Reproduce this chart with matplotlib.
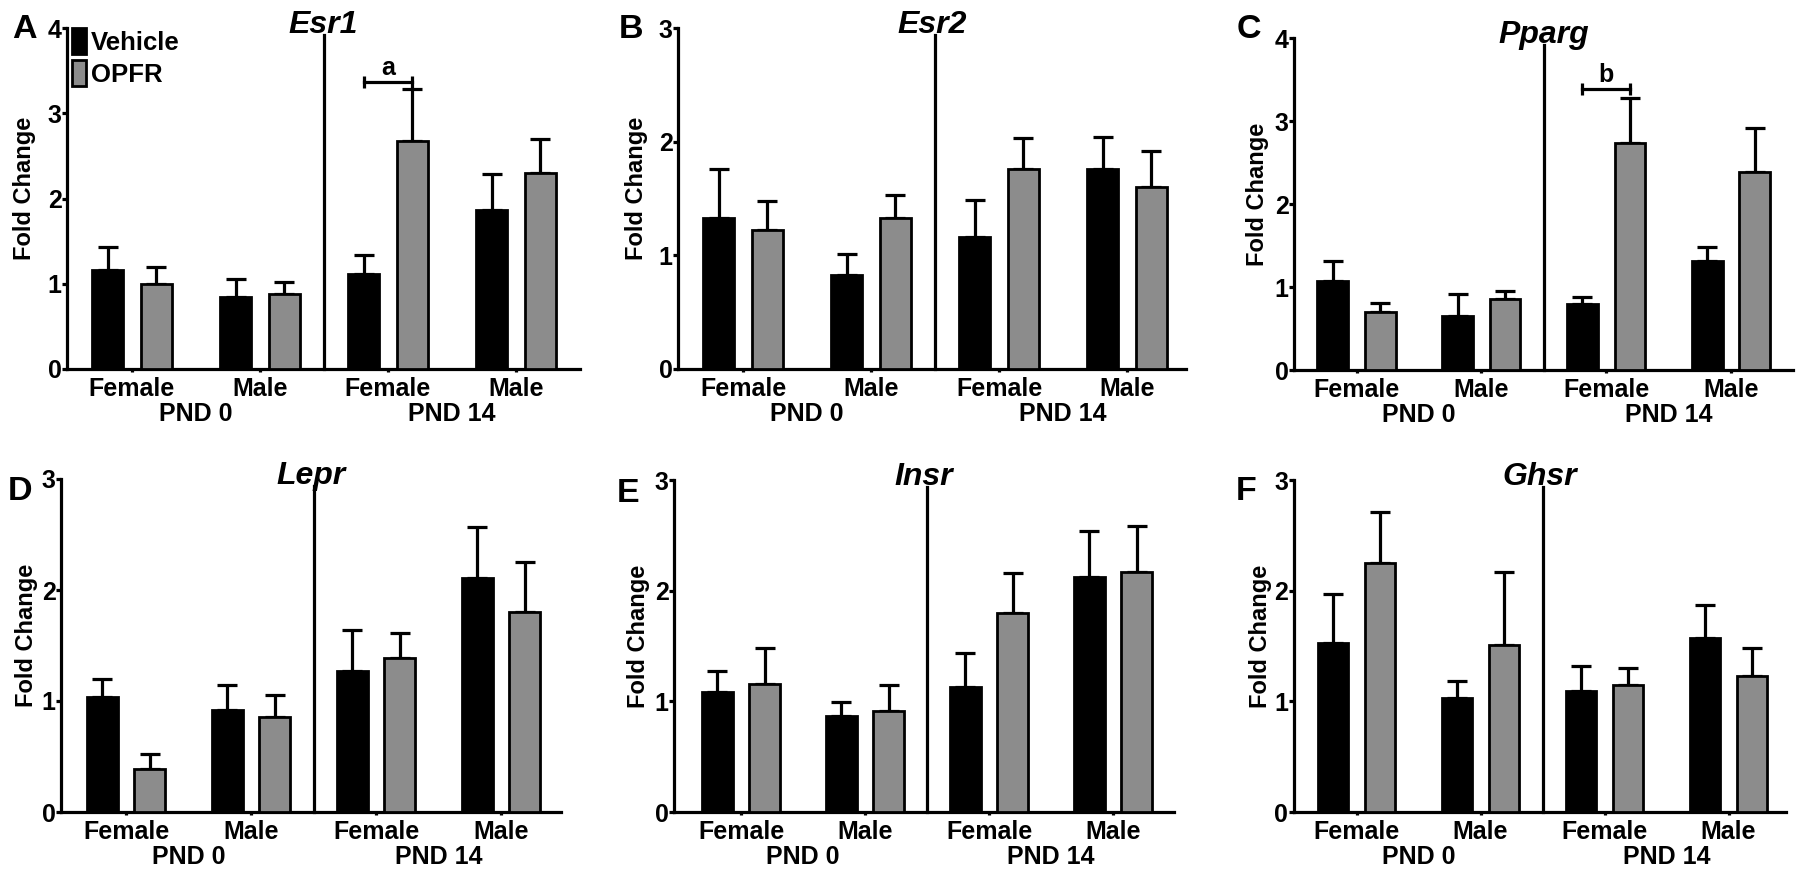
import matplotlib
matplotlib.use('Agg')
import matplotlib.pyplot as plt
import numpy as np

plt.rcParams['font.family'] = ['Liberation Sans', 'DejaVu Sans']
plt.rcParams['font.weight'] = 'bold'

# ---------------- data ----------------
sex_labels = ['Female', 'Male', 'Female', 'Male']
age_labels = ['PND 0', 'PND 14']
treatments = ['Vehicle', 'OPFR']
panel_letters = ['A', 'B', 'C', 'D', 'E', 'F']
genes = ['Esr1', 'Esr2', 'Pparg', 'Lepr', 'Insr', 'Ghsr']
y_max = [4, 3, 4, 3, 3, 3]

esr1_vehicle = [1.16, 0.84, 1.12, 1.87]
esr1_vehicle_sem = [0.27, 0.21, 0.22, 0.42]
esr1_opfr = [1.00, 0.88, 2.68, 2.30]
esr1_opfr_sem = [0.195, 0.14, 0.60, 0.40]

esr2_vehicle = [1.33, 0.83, 1.16, 1.76]
esr2_vehicle_sem = [0.43, 0.18, 0.33, 0.28]
esr2_opfr = [1.22, 1.33, 1.76, 1.60]
esr2_opfr_sem = [0.26, 0.20, 0.27, 0.32]

pparg_vehicle = [1.07, 0.65, 0.80, 1.31]
pparg_vehicle_sem = [0.24, 0.26, 0.08, 0.17]
pparg_opfr = [0.70, 0.85, 2.73, 2.39]
pparg_opfr_sem = [0.11, 0.10, 0.55, 0.53]

lepr_vehicle = [1.04, 0.92, 1.27, 2.11]
lepr_vehicle_sem = [0.16, 0.22, 0.37, 0.46]
lepr_opfr = [0.39, 0.86, 1.39, 1.80]
lepr_opfr_sem = [0.13, 0.19, 0.22, 0.45]

insr_vehicle = [1.08, 0.87, 1.13, 2.12]
insr_vehicle_sem = [0.19, 0.12, 0.31, 0.42]
insr_opfr = [1.16, 0.91, 1.80, 2.17]
insr_opfr_sem = [0.32, 0.24, 0.36, 0.41]

ghsr_vehicle = [1.53, 1.03, 1.09, 1.57]
ghsr_vehicle_sem = [0.44, 0.15, 0.23, 0.30]
ghsr_opfr = [2.25, 1.51, 1.15, 1.23]
ghsr_opfr_sem = [0.46, 0.66, 0.15, 0.25]

# significance brackets
sig_panels = ['A', 'C']
sig_groups = [2, 2]
sig_heights = [3.37, 3.38]
sig_letters = ['a', 'b']

vehicle_means = [esr1_vehicle, esr2_vehicle, pparg_vehicle, lepr_vehicle, insr_vehicle, ghsr_vehicle]
vehicle_sems = [esr1_vehicle_sem, esr2_vehicle_sem, pparg_vehicle_sem, lepr_vehicle_sem, insr_vehicle_sem, ghsr_vehicle_sem]
opfr_means = [esr1_opfr, esr2_opfr, pparg_opfr, lepr_opfr, insr_opfr, ghsr_opfr]
opfr_sems = [esr1_opfr_sem, esr2_opfr_sem, pparg_opfr_sem, lepr_opfr_sem, insr_opfr_sem, ghsr_opfr_sem]

# ---------------- layout (pixels) ----------------
W, H = 1800, 874
DPI = 100
# axis-left, axis-right, first tick, last tick, top (y max), bottom (y=0)
boxes = [(67, 580, 132, 516, 28, 369),
         (678, 1186, 743, 1127, 28, 369),
         (1294, 1793, 1356.5, 1731, 38, 370),
         (61, 561, 126, 501, 479, 812),
         (674, 1174, 741, 1113, 480, 812),
         (1293.5, 1786, 1356.5, 1728.6, 480, 812)]
ylabel_off = [-31, -30, -25, -23, -24, -21]
letter_pos = [(12, 38), (619, 38), (1237, 38), (8, 500), (617, 502), (1236, 500)]

BLACK = '#000000'
GREY = '#8c8c8c'
LW = 2.3
FS = 18
px2pt = 72.0 / DPI

fig = plt.figure(figsize=(W / DPI, H / DPI), dpi=DPI)

x = np.arange(len(sex_labels))
off = 0.19
bw = 0.245

for i in range(6):
    l, r, t0, t3, t, b = boxes[i]
    sp = (t3 - t0) / 3.0
    ax = fig.add_axes([l / W, 1 - b / H, (r - l) / W, (b - t) / H])
    ymax = y_max[i]
    vm, vs = np.array(vehicle_means[i]), np.array(vehicle_sems[i])
    om, os_ = np.array(opfr_means[i]), np.array(opfr_sems[i])

    bv = ax.bar(x - off, vm, width=bw, color=BLACK, edgecolor=BLACK, linewidth=2.0,
                label=treatments[0], zorder=3)
    bo = ax.bar(x + off, om, width=bw, color=GREY, edgecolor=BLACK, linewidth=2.0,
                label=treatments[1], zorder=3)
    ax.errorbar(x - off, vm, yerr=[np.zeros_like(vs), vs], fmt='none', ecolor=BLACK,
                elinewidth=LW, capsize=7, capthick=LW, zorder=2)
    ax.errorbar(x + off, om, yerr=[np.zeros_like(os_), os_], fmt='none', ecolor=BLACK,
                elinewidth=LW, capsize=7, capthick=LW, zorder=2)

    ax.set_xlim((l - t0) / sp, 3 + (r - t3) / sp)
    ax.set_ylim(0, ymax)
    ax.set_yticks(range(ymax + 1))
    ax.set_xticks(x)
    ax.set_xticklabels(sex_labels)
    for s in ['top', 'right']:
        ax.spines[s].set_visible(False)
    for s in ['left', 'bottom']:
        ax.spines[s].set_linewidth(LW)
    ax.tick_params(axis='y', length=3.5, width=LW, pad=0.3, labelsize=FS)
    ax.tick_params(axis='x', length=2.5, width=LW, pad=3, labelsize=FS)
    for lab in ax.get_xticklabels() + ax.get_yticklabels():
        lab.set_fontweight('bold')

    # divider between PND 0 and PND 14
    ax.plot([1.5, 1.5], [0, 0.98 * ymax], color=BLACK, lw=LW, clip_on=False, zorder=4)

    # age group labels
    for k, age in enumerate(age_labels):
        ax.annotate(age, xy=(2 * k + 0.5, 0), xycoords=ax.get_xaxis_transform(),
                    xytext=(0, -52 * px2pt), textcoords='offset points',
                    ha='center', va='baseline', fontsize=FS, fontweight='bold')

    # title
    ax.text(0.5, 0.985, genes[i], transform=ax.transAxes, ha='center', va='baseline',
            fontsize=23, fontweight='bold', fontstyle='italic')

    # y label
    ax.set_ylabel('Fold Change', fontsize=17, fontweight='bold')
    ax.yaxis.set_label_coords(ylabel_off[i] / (r - l), 0.53)

    # significance
    if panel_letters[i] in sig_panels:
        j = sig_panels.index(panel_letters[i])
        g = sig_groups[j]
        hgt = sig_heights[j]
        ax.plot([g - off, g + off], [hgt, hgt], color=BLACK, lw=LW, marker='|',
                markersize=12 * px2pt, mew=LW, zorder=5)
        ax.annotate(sig_letters[j], xy=(g, hgt), xytext=(0, 7 * px2pt),
                    textcoords='offset points', ha='center', va='baseline',
                    fontsize=FS, fontweight='bold')

    if i == 0:
        ax.legend(handles=[bv, bo], loc='upper left', bbox_to_anchor=(5 / (r - l), 1.0),
                  frameon=False, borderpad=0, borderaxespad=0, handlelength=0.55,
                  handleheight=1.17, handletextpad=0.2, labelspacing=0.22,
                  prop={'weight': 'bold', 'size': 18.5})

    lx, ly = letter_pos[i]
    fig.text(lx / W, 1 - ly / H, panel_letters[i], ha='left', va='baseline',
             fontsize=24.5, fontweight='bold')

fig.savefig('out.png', dpi=DPI)
